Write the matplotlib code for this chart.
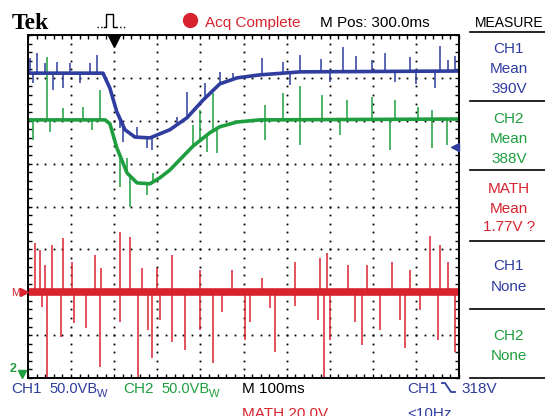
import numpy as np
import matplotlib
matplotlib.use("Agg")
from matplotlib import pyplot as plt
from matplotlib.lines import Line2D

plt.rcParams['font.family'] = ['Liberation Sans', 'DejaVu Sans']

# time in ms from left edge of screen (100 ms/div), values in screen divisions (0 = centre)
ch1_t = [0, 174, 190, 206, 225, 248, 283, 329, 369, 406, 445, 485, 538, 631, 1000]
ch1_v = [3.11, 3.11, 2.76, 2.21, 1.79, 1.62, 1.60, 1.79, 2.07, 2.48, 2.86, 3.00, 3.07, 3.14, 3.16]
ch1_spike_t = [5, 21, 39, 67, 97, 144, 160, 213, 253, 346, 369, 411, 445, 476, 543, 592, 631, 680,
               731, 760, 798, 828, 886, 956, 974, 990,
               12, 58, 81, 121, 220, 276, 288, 608, 701, 851, 900, 944]
ch1_spike_v = [3.46, 3.58, 3.35, 3.37, 3.35, 3.35, 3.53, 1.83, 1.86, 2.09, 2.67, 2.88, 3.14, 3.11, 3.46, 3.37, 3.53, 3.45,
               3.72, 3.50, 3.42, 3.58, 3.49, 3.74, 3.42, 3.50,
               2.88, 2.72, 2.76, 2.88, 1.50, 1.37, 1.32, 2.83, 2.90, 2.90, 2.85, 2.76]

ch2_t = [0, 179, 190, 206, 230, 253, 283, 306, 329, 383, 422, 445, 485, 538, 1000]
ch2_v = [2.02, 2.02, 1.93, 1.37, 0.78, 0.55, 0.53, 0.67, 0.85, 1.41, 1.72, 1.86, 1.97, 2.02, 2.04]
ch2_spike_t = [44, 81, 128, 167, 230, 290, 383, 399, 429, 550, 592, 631, 682, 740, 798, 851, 905, 937,
               12, 51, 148, 213, 237, 276, 415, 438, 550, 631, 724, 840, 937, 972]
ch2_spike_v = [3.49, 2.30, 2.32, 2.72, 1.13, 0.78, 1.90, 2.25, 2.65, 2.37, 2.65, 2.81, 2.60, 2.48, 2.55, 2.48, 2.32, 2.25,
               1.55, 1.74, 1.79, 0.46, -0.01, 0.27, 1.27, 1.25, 1.55, 1.44, 1.67, 1.32, 1.37, 1.44]

math_t = [0, 1000]
math_v = [-2.0, -2.0]
math_spike_t = [16, 28, 39, 56, 81, 102, 155, 169, 213, 237, 264, 299, 334, 399, 473, 543, 619, 677, 694,
                742, 786, 844, 886, 933, 956, 974,
                32, 44, 77, 107, 135, 167, 213, 255, 278, 288, 306, 334, 364, 399, 429, 450, 503, 515,
                561, 573, 619, 673, 687, 701, 759, 775, 817, 863, 875, 909, 951, 991]
math_spike_v = [-0.85, -1.01, -1.36, -0.90, -0.73, -1.29, -1.13, -1.43, -0.59, -0.71, -1.43, -1.43, -1.13, -1.48,
                -1.48, -1.66, -1.29, -1.20, -1.08, -1.36, -1.36, -1.29, -1.48, -0.69, -0.90, -1.29,
                -2.34, -4.0, -3.04, -2.71, -2.83, -3.74, -2.69, -4.0, -2.87, -3.53, -2.64, -3.16, -3.34, -2.87,
                -3.65, -2.46, -3.11, -2.69, -2.36, -3.39, -2.32, -2.64, -4.0, -3.11, -2.69, -3.23, -2.87, -2.64,
                -3.29, -2.41, -3.11, -3.39]

blue = '#2e3d9e'
green = '#1f9e3f'
red = '#d8232f'

W, H = 545, 416
fig = plt.figure(figsize=(W / 100, H / 100), dpi=100)
fig.patch.set_facecolor('white')


def fx(px):
    return px / W


def fy(py):
    return 1 - py / H


ax = fig.add_axes([fx(28), fy(378), 431 / W, 343 / H])
ax.set_xlim(0, 1000)
ax.set_ylim(-4, 4)

# graticule dots
for xv in range(100, 1000, 100):
    yy = np.arange(-4, 4.01, 0.2)
    ax.plot(np.full_like(yy, xv), yy, ls='none', marker='s', ms=1.3, color='black', mew=0)
for yv in range(-3, 4):
    xx = np.arange(0, 1001, 20)
    ax.plot(xx, np.full_like(xx, yv, dtype=float), ls='none', marker='s', ms=1.3, color='black', mew=0)

ax.set_xticks(np.arange(0, 1001, 20))
ax.set_yticks(np.arange(-4, 4.01, 0.2))
ax.tick_params(direction='in', length=3, width=1, top=True, right=True,
               labelbottom=False, labelleft=False)
for s in ax.spines.values():
    s.set_linewidth(1.4)


def trace(t, v, st, sv, color, lw):
    ax.plot(t, v, color=color, lw=lw, solid_capstyle='butt')
    base = np.interp(st, t, v)
    ax.vlines(st, base, sv, color=color, lw=1.1)


trace(math_t, math_v, math_spike_t, math_spike_v, red, 5.5)
trace(ch2_t, ch2_v, ch2_spike_t, ch2_spike_v, green, 2.6)
trace(ch1_t, ch1_v, ch1_spike_t, ch1_spike_v, blue, 2.6)

# trigger position marker
ax.plot([200], [3.85], marker='v', ms=8, color='black', clip_on=False)

fs = 11
# header
fig.text(fx(12), fy(29), 'Tek', family='Liberation Serif', weight='bold', fontsize=17, va='baseline')
fig.add_artist(Line2D([fx(97), fx(104)], [fy(27), fy(27)], color='black', lw=1, ls=':', transform=fig.transFigure))
fig.add_artist(Line2D([fx(104), fx(106), fx(106), fx(113), fx(113), fx(116)],
                      [fy(27), fy(27), fy(14), fy(14), fy(27), fy(27)], color='black', lw=1,
                      transform=fig.transFigure))
fig.add_artist(Line2D([fx(116), fx(126)], [fy(27), fy(27)], color='black', lw=1, ls=':', transform=fig.transFigure))
fig.add_artist(Line2D([fx(190)], [fy(20)], marker='o', ms=10, color=red, transform=fig.transFigure))
fig.text(fx(205), fy(27), 'Acq Complete', color=red, fontsize=fs, va='baseline')
fig.text(fx(320), fy(27), 'M Pos: 300.0ms', color='black', fontsize=fs, va='baseline')
fig.text(fx(509), fy(27), 'MEASURE', color='black', fontsize=10, va='baseline', ha='center')

# measure panel
for py in [32, 101, 170, 241, 309, 378]:
    fig.add_artist(Line2D([fx(470), fx(545)], [fy(py), fy(py)], color='black', lw=1.2,
                          transform=fig.transFigure))
panel = [('CH1', 53, blue), ('Mean', 73, blue), ('390V', 93, blue),
         ('CH2', 123, green), ('Mean', 143, green), ('388V', 163, green),
         ('MATH', 193, red), ('Mean', 213, red), ('1.77V ?', 231, red),
         ('CH1', 270, blue), ('None', 291, blue),
         ('CH2', 340, green), ('None', 360, green)]
for txt, py, c in panel:
    fig.text(fx(509), fy(py), txt, color=c, fontsize=fs, va='baseline', ha='center')

# channel markers
fig.text(fx(11), fy(296), 'M', color=red, fontsize=8, va='baseline')
fig.add_artist(Line2D([fx(24)], [fy(292)], marker='>', ms=6, color=red, transform=fig.transFigure))
fig.text(fx(10), fy(372), '2', color=green, fontsize=9, va='baseline', weight='bold')
fig.add_artist(Line2D([fx(22)], [fy(374)], marker='v', ms=6, color=green, transform=fig.transFigure))
fig.add_artist(Line2D([fx(455)], [fy(147)], marker='<', ms=6, color=blue, transform=fig.transFigure))

# bottom status line
fig.text(fx(11), fy(393), 'CH1', color=blue, fontsize=fs, va='baseline')
fig.text(fx(49), fy(393), '50.0VB', color=blue, fontsize=10.5, va='baseline')
fig.text(fx(97), fy(397), 'W', color=blue, fontsize=8, va='baseline')
fig.text(fx(123), fy(393), 'CH2', color=green, fontsize=fs, va='baseline')
fig.text(fx(161), fy(393), '50.0VB', color=green, fontsize=10.5, va='baseline')
fig.text(fx(209), fy(397), 'W', color=green, fontsize=8, va='baseline')
fig.text(fx(242), fy(393), 'M 100ms', color='black', fontsize=fs, va='baseline')
fig.text(fx(242), fy(418), 'MATH 20.0V', color=red, fontsize=fs, va='baseline')
fig.text(fx(407), fy(393), 'CH1', color=blue, fontsize=fs, va='baseline')
fig.add_artist(Line2D([fx(442), fx(445), fx(451), fx(455)], [fy(383), fy(383), fy(392), fy(392)],
                      color=blue, lw=1.3, transform=fig.transFigure))
fig.text(fx(461), fy(393), '318V', color=blue, fontsize=fs, va='baseline')
fig.text(fx(407), fy(418), '<10Hz', color=blue, fontsize=fs, va='baseline')

fig.savefig('out.png', dpi=100, facecolor='white')
